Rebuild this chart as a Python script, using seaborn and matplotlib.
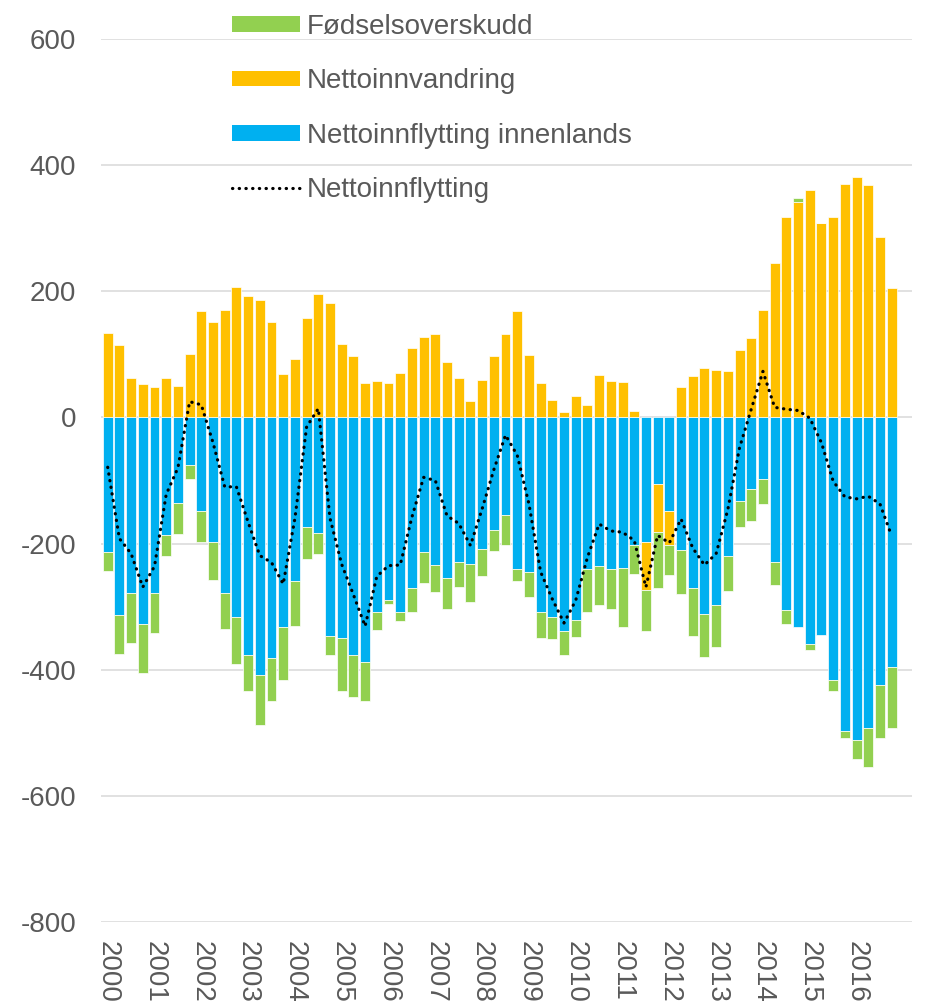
import numpy as np
import pandas as pd
import seaborn as sns
import matplotlib.pyplot as plt
from matplotlib.patches import Patch
from matplotlib.lines import Line2D

# quarterly values 2000Q1 - 2016Q4
years = [str(y) for y in range(2000, 2017)]

innenlands = [-213, -314, -279, -327, -279, -187, -136, -76, -149, -197, -279, -316,
              -377, -408, -382, -333, -260, -173, -183, -346, -350, -376, -387, -308,
              -289, -309, -271, -213, -234, -254, -229, -232, -208, -178, -154, -240,
              -245, -309, -317, -338, -321, -240, -235, -241, -238, -203, -197, -105,
              -148, -210, -271, -312, -297, -219, -133, -113, -98, -230, -306, -332,
              -360, -345, -417, -497, -511, -492, -424, -395]

innvandring = [134, 115, 63, 53, 49, 62, 50, 100, 168, 152, 170, 207,
               193, 186, 151, 69, 93, 157, 196, 182, 117, 97, 55, 58,
               54, 71, 110, 127, 133, 88, 63, 26, 59, 97, 132, 169,
               99, 54, 27, 9, 34, 20, 68, 57, 56, 10, -76, -77,
               -54, 49, 65, 79, 75, 73, 107, 126, 171, 245, 318, 341,
               361, 308, 317, 370, 381, 368, 286, 206]

fodsel = [-31, -61, -79, -79, -62, -32, -49, -22, -48, -60, -57, -75,
          -56, -80, -67, -84, -71, -52, -33, -31, -83, -67, -62, -29,
          -7, -13, -38, -49, -43, -50, -40, -61, -43, -33, -48, -19,
          -39, -41, -35, -39, -27, -68, -63, -63, -95, -45, -66, -89,
          -48, -70, -75, -68, -67, -56, -41, -51, -40, -35, -21, 7,
          -8, 0, -16, -11, -31, -63, -85, -97]

netto = [-79, -192, -216, -269, -236, -122, -80, 25, 20, -40, -110, -110,
         -166, -219, -230, -264, -160, -15, 14, -160, -233, -281, -331, -252,
         -235, -234, -158, -95, -100, -156, -168, -203, -145, -83, -28, -60,
         -137, -245, -288, -326, -290, -222, -169, -180, -182, -195, -269, -187,
         -199, -161, -207, -234, -216, -146, -48, 13, 73, 16, 13, 11,
         -1, -40, -101, -126, -129, -125, -137, -188]

n = len(innenlands)
df = pd.DataFrame({"q": range(n), "innenlands": innenlands,
                   "innvandring": innvandring, "fodsel": fodsel, "netto": netto})

# Excel-style stacking: positives go up from 0, negatives go down from 0
pos = np.zeros(n)
neg = np.zeros(n)
bottoms = {}
for col in ["innenlands", "innvandring", "fodsel"]:
    v = df[col].to_numpy(float)
    bottoms[col] = np.where(v >= 0, pos, neg)
    pos = pos + np.where(v >= 0, v, 0)
    neg = neg + np.where(v < 0, v, 0)

colors = {"innenlands": "#00B0F0", "innvandring": "#FFC000", "fodsel": "#92D050"}
grey = "#595959"

sns.set_theme(style="white")
plt.rcParams['font.family'] = ['Liberation Sans', 'DejaVu Sans']

fig = plt.figure(figsize=(9.27, 10.06), dpi=100)
ax = fig.add_axes([101 / 927, 1 - 922 / 1006, (912 - 101) / 927, (922 - 39) / 1006])

for col in ["innenlands", "innvandring", "fodsel"]:
    sns.barplot(data=df, x="q", y=col, color=colors[col], saturation=1,
                width=0.85, bottom=bottoms[col], errorbar=None,
                edgecolor="white", linewidth=0.5, ax=ax)

sns.lineplot(data=df, x="q", y="netto", color="black", lw=2.3,
             linestyle=(0, (0.1, 2.0)), dash_capstyle="round",
             zorder=5, ax=ax)

ax.set_xlim(-0.573, 68.74)
ax.set_ylim(-800, 600)
ticks = list(range(-800, 601, 200))
ax.set_yticks(ticks)
ax.set_yticklabels([str(t) for t in ticks])
ax.set_xticks(range(0, n, 4))
ax.set_xticklabels(years, rotation=-90)
ax.set_xlabel("")
ax.set_ylabel("")

ax.set_axisbelow(True)
ax.yaxis.grid(True, color="#D9D9D9", lw=1.1)
ax.xaxis.grid(False)
for s in ax.spines.values():
    s.set_visible(False)
ax.tick_params(axis="y", length=0, pad=18, labelsize=20, labelcolor=grey)
ax.tick_params(axis="x", length=0, pad=14, labelsize=20, labelcolor=grey)

handles = [
    Patch(facecolor=colors["fodsel"], edgecolor="none"),
    Patch(facecolor=colors["innvandring"], edgecolor="none"),
    Patch(facecolor=colors["innenlands"], edgecolor="none"),
    Line2D([], [], color="black", lw=2.3, linestyle=(0, (0.1, 2.0)), dash_capstyle="round"),
]
labels = ["Fødselsoverskudd", "Nettoinnvandring", "Nettoinnflytting innenlands", "Nettoinnflytting"]
leg = fig.legend(handles, labels, loc="upper left", bbox_to_anchor=(232 / 927, 1 - 14 / 1006),
                 frameon=False, fontsize=20, handlelength=2.45, handleheight=0.5,
                 handletextpad=0.25, labelspacing=1.02, borderpad=0, borderaxespad=0)
for t in leg.get_texts():
    t.set_color(grey)

fig.savefig("out.png", dpi=100)
